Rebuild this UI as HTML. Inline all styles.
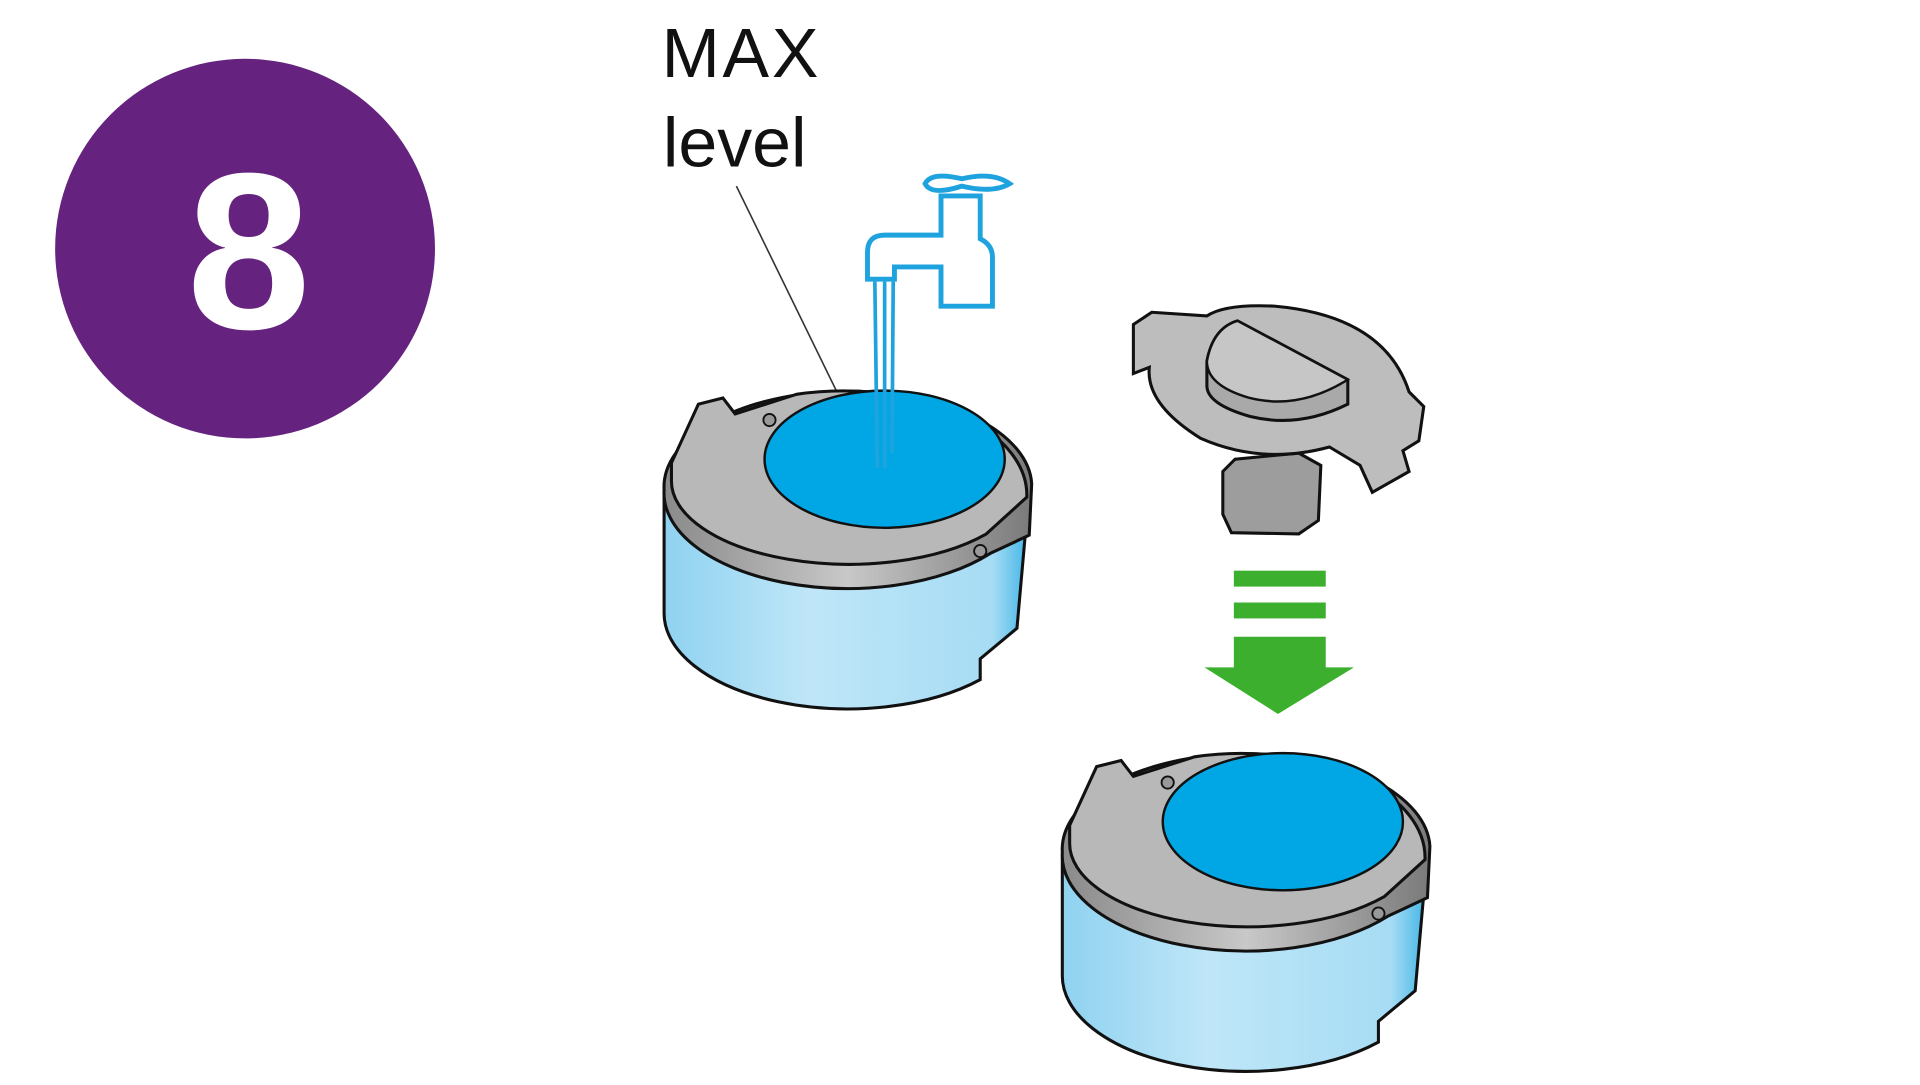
<!DOCTYPE html>
<html><head><meta charset="utf-8"><style>
html,body{margin:0;padding:0;background:#fff;width:1920px;height:1085px;overflow:hidden}
svg{display:block}
</style></head><body>
<svg width="1920" height="1085" viewBox="0 0 1567 886" preserveAspectRatio="none" xmlns="http://www.w3.org/2000/svg">
<defs>
<linearGradient id="body" x1="0" x2="1" y1="0" y2="0">
<stop offset="0" stop-color="#8fd2f0"/><stop offset="0.4" stop-color="#bfe6f8"/><stop offset="0.9" stop-color="#a6dcf4"/><stop offset="1" stop-color="#3fb4e6"/>
</linearGradient>
<linearGradient id="ring" x1="0" x2="1"><stop offset="0" stop-color="#8a8a8a"/><stop offset="0.5" stop-color="#c8c8c8"/><stop offset="1" stop-color="#7a7a7a"/></linearGradient>
<g id="tank">
<path d="M542,405 L542,500 A150,78 0 0 0 800,555 L800,538 L830,513 L840,400 Z" fill="url(#body)" stroke="#111" stroke-width="2.5"/>
<path d="M542,400 A150,78 0 0 0 808,452 L840,437 L842,395 A150,78 0 0 0 542,400 Z" fill="url(#ring)" stroke="#111" stroke-width="2.5"/>
<path d="M548,392 A145,68 0 0 0 805,436 L838,406 A150,85 0 0 0 650,322 L600,338 L590,325 L570,330 L548,378 Z" fill="#b8b8b8" stroke="#111" stroke-width="2.5"/>
<ellipse cx="722" cy="375" rx="98" ry="56" fill="#00a7e4" stroke="#111" stroke-width="2"/>
<circle cx="800" cy="450" r="5" fill="#999" stroke="#111" stroke-width="1.5"/>
<circle cx="628" cy="343" r="5" fill="#999" stroke="#111" stroke-width="1.5"/>
</g>
</defs>
<circle cx="200" cy="203" r="155" fill="#65237f"/>
<text x="203" y="268" text-anchor="middle" font-family="Liberation Sans, sans-serif" font-weight="bold" font-size="182" fill="#fff">8</text>
<text x="540" y="63" font-family="Liberation Sans, sans-serif" font-size="57" fill="#111" textLength="128">MAX</text>
<text x="541" y="136" font-family="Liberation Sans, sans-serif" font-size="57" fill="#111">level</text>
<line x1="601" y1="152" x2="684" y2="322" stroke="#333" stroke-width="1.3"/>
<use href="#tank"/>
<use href="#tank" transform="translate(325,296)"/>
<g fill="#fff" stroke="#1fa3de" stroke-width="4">
<path d="M708,228 L708,206 Q708,192 722,192 L768,192 L768,160 L800,160 L800,195 Q810,200 810,210 L810,250 L768,250 L768,218 L730,218 L730,228 Z"/>
<path d="M755,150 Q760,140 785,146 Q810,140 824,150 Q810,158 785,152 Q760,160 755,150 Z"/>
</g>
<g stroke="#1fa3de" stroke-width="3"><line x1="714" y1="230" x2="716" y2="382"/><line x1="722" y1="230" x2="722" y2="382"/><line x1="729" y1="230" x2="728" y2="370"/></g>
<path d="M1005,435 L998,420 L998,385 L1008,375 L1060,370 L1078,380 L1076,425 L1060,436 Z" fill="#9d9d9d" stroke="#111" stroke-width="2.5"/>
<path d="M925,265 L940,255 L985,258 Q1000,248 1040,250 Q1130,258 1150,320 L1162,332 L1158,360 L1145,368 L1150,385 L1120,402 L1110,380 L1085,365 Q1030,380 980,358 Q935,330 938,300 L925,305 Z" fill="#bdbdbd" stroke="#111" stroke-width="2.5"/>
<path d="M985,295 Q990,268 1010,262 L1100,310 L1100,330 Q1060,350 1020,340 Q985,330 985,315 Z" fill="#a9a9a9" stroke="#111" stroke-width="2.5"/>
<path d="M985,295 Q990,268 1010,262 L1100,310 Q1060,335 1020,325 Q985,315 985,295 Z" fill="#c6c6c6" stroke="#111" stroke-width="2"/>
<g fill="#3cb02e">
<rect x="1007" y="466" width="75" height="13"/>
<rect x="1007" y="492" width="75" height="13"/>
<path d="M1007,520 L1082,520 L1082,545 L1105,545 L1043,583 L983,545 L1007,545 Z"/>
</g>
</svg>
</body></html>
